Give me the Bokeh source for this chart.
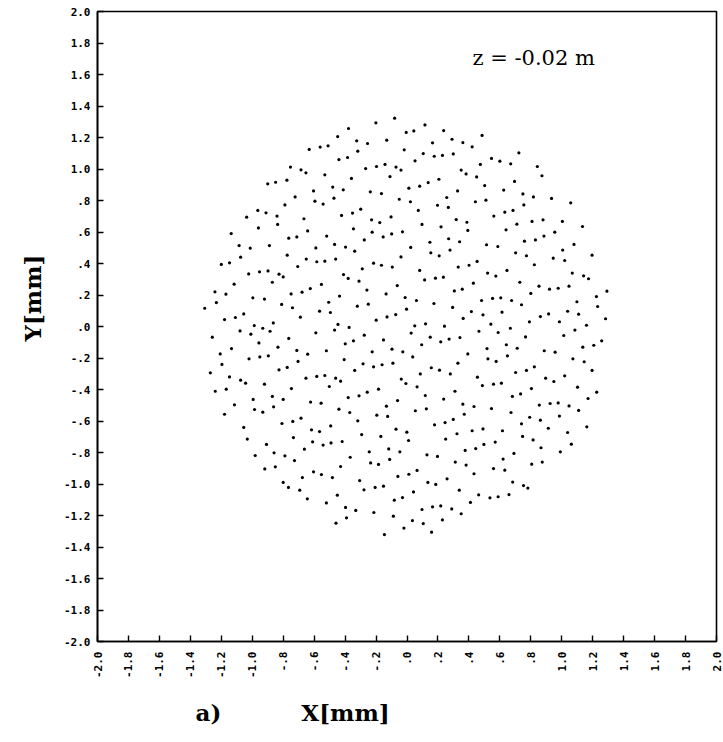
import math

from bokeh.embed import file_html
from bokeh.models import ColumnDataSource, FixedTicker, Label, Title
from bokeh.plotting import figure
from bokeh.resources import INLINE

# Spot positions in the transverse plane (mm), grouped by sector of the spot pattern.
nw_x = [-0.632, -0.561, -0.510, -0.753, -0.685, -0.653, -0.531, -0.900, -0.849, -0.776,
        -0.480, -0.604, -0.723, -0.595, -0.542, -0.472, -0.789, -0.964, -0.911, -1.036,
        -0.840, -0.666, -0.960, -0.836, -0.642, -1.136, -0.764, -0.712, -0.519, -1.085,
        -1.013, -0.889, -0.589, -0.468]
nw_y = [1.124, 1.139, 1.147, 1.012, 0.995, 0.976, 0.963, 0.906, 0.916, 0.929,
        0.885, 0.861, 0.823, 0.796, 0.777, 0.815, 0.772, 0.737, 0.722, 0.694,
        0.701, 0.684, 0.626, 0.648, 0.607, 0.590, 0.561, 0.569, 0.574, 0.514,
        0.497, 0.514, 0.499, 0.521]

n_x = [-0.080, -0.201, -0.378, -0.448, -0.005, 0.044, 0.116, 0.237, -0.325, -0.255,
       -0.131, 0.165, 0.291, 0.361, 0.421, -0.440, -0.384, -0.318, -0.018, 0.105,
       0.176, 0.229, 0.299, 0.052, -0.267, -0.197, -0.142, -0.071, -0.039, 0.350,
       0.382, -0.359, -0.110, 0.206, 0.137, 0.082, 0.012, -0.412, -0.237, -0.165,
       0.327, -0.050, 0.022, 0.257, 0.442, -0.352, -0.299, -0.423, 0.073, 0.197,
       0.267, -0.103, -0.229, -0.176, 0.318, 0.387, 0.097, 0.220, -0.346, -0.225,
       -0.154, -0.099, -0.029, 0.393, -0.276, 0.269, 0.340, 0.148, -0.397, -0.338,
       0.024, 0.278]
n_y = [1.323, 1.293, 1.257, 1.206, 1.232, 1.242, 1.280, 1.244, 1.179, 1.162,
       1.183, 1.166, 1.189, 1.168, 1.141, 1.060, 1.073, 1.113, 1.122, 1.098,
       1.081, 1.086, 1.096, 1.052, 1.003, 1.016, 1.029, 1.012, 0.993, 0.993,
       0.969, 0.940, 0.952, 0.935, 0.914, 0.891, 0.878, 0.868, 0.855, 0.844,
       0.861, 0.808, 0.792, 0.819, 0.792, 0.720, 0.745, 0.705, 0.737, 0.770,
       0.756, 0.696, 0.677, 0.660, 0.679, 0.662, 0.648, 0.633, 0.620, 0.599,
       0.569, 0.588, 0.601, 0.610, 0.550, 0.557, 0.538, 0.535, 0.504, 0.478,
       0.502, 0.485]

ne_x = [0.485, 0.723, 0.546, 0.600, 0.670, 0.474, 0.842, 0.450, 0.872, 0.695,
        0.502, 0.625, 0.749, 0.817, 0.934, 1.058, 0.510, 0.755, 0.561, 0.632,
        0.685, 0.808, 0.879, 1.004, 0.710, 0.640, 1.134, 0.955, 0.885, 0.830,
        0.759, 1.079, 0.514, 0.587, 1.006, 0.702]
ne_y = [1.213, 1.103, 1.067, 1.050, 1.033, 1.029, 1.016, 0.950, 0.957, 0.921,
        0.895, 0.866, 0.842, 0.823, 0.813, 0.785, 0.802, 0.772, 0.701, 0.726,
        0.737, 0.667, 0.677, 0.667, 0.650, 0.614, 0.635, 0.599, 0.574, 0.550,
        0.542, 0.521, 0.519, 0.508, 0.485, 0.468]

w_x = [-1.075, -0.774, -1.200, -1.147, -0.651, -0.583, -0.531, -0.461, -0.706, -1.023,
       -0.953, -0.898, -0.827, -0.800, -1.117, -0.870, -0.553, -1.241, -1.170, -0.749,
       -0.678, -0.625, -0.996, -0.921, -1.232, -0.506, -1.307, -0.810, -0.740, -0.565,
       -0.495, -1.055, -1.179, -1.109, -0.689, -0.987, -0.932, -0.864, -0.885, -1.079,
       -1.009, -0.468, -0.589, -1.258, -0.764, -0.957, -0.834, -1.134, -0.712, -0.642,
       -0.521, -1.207, -1.021, -0.951, -0.896, -1.196, -0.704, -1.271, -1.147, -0.827,
       -0.774, -1.075, -1.043, -0.921, -0.653, -0.583, -0.531, -0.461, -1.239, -1.168,
       -0.747, -0.502]
w_y = [0.440, 0.453, 0.394, 0.404, 0.428, 0.411, 0.415, 0.428, 0.381, 0.334,
       0.347, 0.353, 0.332, 0.315, 0.269, 0.281, 0.267, 0.220, 0.205, 0.207,
       0.218, 0.241, 0.182, 0.174, 0.152, 0.154, 0.116, 0.140, 0.119, 0.097,
       0.089, 0.080, 0.044, 0.057, 0.059, 0.006, -0.011, 0.023, -0.030, -0.028,
       -0.049, -0.023, -0.040, -0.068, -0.076, -0.104, -0.131, -0.140, -0.152, -0.176,
       -0.154, -0.174, -0.205, -0.193, -0.186, -0.241, -0.222, -0.294, -0.320, -0.275,
       -0.260, -0.341, -0.360, -0.366, -0.328, -0.317, -0.311, -0.328, -0.411, -0.398,
       -0.394, -0.381]

c_x = [-0.039, 0.154, 0.208, -0.216, -0.165, -0.095, -0.289, -0.410, -0.380, -0.310,
       0.082, 0.331, 0.401, 0.114, 0.184, 0.235, -0.063, 0.429, -0.436, -0.259,
       -0.135, -0.012, 0.061, 0.306, 0.357, -0.321, -0.250, 0.174, -0.003, 0.295,
       0.416, -0.199, -0.129, -0.073, 0.363, -0.446, -0.374, 0.050, 0.120, 0.242,
       -0.276, 0.027, -0.346, -0.399, -0.152, 0.150, 0.218, 0.272, 0.342, 0.095,
       -0.097, -0.225, -0.027, 0.393, 0.037, -0.406, -0.284, -0.216, -0.161, -0.091,
       0.329, -0.338, 0.157, 0.210, 0.280, 0.086, -0.429, -0.037, -0.007, -0.184,
       0.065, 0.310, -0.257]
c_y = [0.442, 0.468, 0.449, 0.402, 0.389, 0.377, 0.366, 0.330, 0.305, 0.288,
       0.356, 0.377, 0.389, 0.296, 0.307, 0.313, 0.260, 0.275, 0.193, 0.231,
       0.207, 0.184, 0.165, 0.226, 0.237, 0.129, 0.142, 0.146, 0.110, 0.121,
       0.095, 0.040, 0.061, 0.076, 0.051, 0.013, -0.006, 0.004, 0.017, 0.002,
       -0.055, -0.042, -0.091, -0.110, -0.085, -0.068, -0.097, -0.080, -0.070, -0.116,
       -0.144, -0.161, -0.161, -0.174, -0.193, -0.210, -0.237, -0.256, -0.243, -0.233,
       -0.233, -0.279, -0.262, -0.277, -0.301, -0.301, -0.347, -0.334, -0.362, -0.398,
       -0.383, -0.411, -0.417]

e_x = [0.772, 0.453, 0.945, 1.019, 1.196, 0.823, 0.521, 0.574, 0.646, 1.068,
       1.141, 1.173, 0.729, 0.853, 0.921, 0.977, 1.047, 0.800, 1.292, 0.482,
       0.553, 0.606, 0.676, 0.740, 1.098, 1.224, 1.232, 0.491, 0.614, 0.862,
       0.915, 1.038, 1.109, 1.283, 0.542, 0.791, 0.985, 1.160, 0.465, 0.589,
       0.668, 1.085, 0.766, 1.013, 0.517, 0.642, 0.712, 0.887, 0.957, 1.136,
       1.207, 1.258, 0.523, 0.576, 0.649, 1.072, 1.145, 0.823, 0.772, 0.702,
       1.196, 0.455, 0.896, 0.949, 1.019, 0.487, 0.559, 0.610, 0.804, 1.102,
       1.226]
e_y = [0.449, 0.413, 0.434, 0.419, 0.453, 0.392, 0.339, 0.320, 0.356, 0.339,
       0.322, 0.303, 0.281, 0.256, 0.237, 0.243, 0.256, 0.210, 0.224, 0.165,
       0.178, 0.182, 0.165, 0.138, 0.157, 0.190, 0.127, 0.074, 0.091, 0.063,
       0.080, 0.097, 0.078, 0.049, 0.015, 0.030, 0.030, 0.008, -0.030, -0.038,
       -0.011, -0.023, -0.066, -0.057, -0.140, -0.116, -0.138, -0.154, -0.163, -0.131,
       -0.119, -0.091, -0.205, -0.222, -0.186, -0.205, -0.224, -0.256, -0.279, -0.292,
       -0.279, -0.322, -0.328, -0.349, -0.313, -0.375, -0.366, -0.360, -0.394, -0.385,
       -0.417]

sw_x = [-0.994, -0.870, -0.800, -0.623, -0.555, -1.115, -1.179, -0.985, -0.932, -0.862,
        -0.808, -0.738, -0.685, -1.055, -0.617, -0.565, -0.493, -1.032, -0.734, -0.908,
        -0.610, -0.542, -0.491, -0.663, -0.981, -0.859, -0.789, -0.727, -0.919, -0.851,
        -0.604, -0.553, -0.482, -0.676, -0.800, -0.766, -0.693, -0.644, -0.521, -0.459]
sw_y = [-0.463, -0.444, -0.463, -0.480, -0.487, -0.497, -0.557, -0.527, -0.544, -0.510,
        -0.616, -0.603, -0.582, -0.641, -0.656, -0.667, -0.631, -0.715, -0.705, -0.749,
        -0.732, -0.753, -0.739, -0.779, -0.819, -0.802, -0.821, -0.851, -0.904, -0.891,
        -0.923, -0.940, -0.959, -0.959, -0.990, -1.022, -1.039, -1.094, -1.120, -1.249]

s_x = [-0.380, -0.310, -0.440, -0.370, -0.195, -0.125, -0.133, -0.061, 0.118, 0.237,
       0.361, 0.433, 0.054, 0.125, 0.370, -0.318, 0.178, 0.246, 0.299, -0.071,
       -0.001, -0.293, -0.169, 0.010, 0.323, 0.421, -0.419, 0.250, -0.244, -0.118,
       -0.046, 0.376, 0.129, 0.197, -0.367, -0.235, -0.184, -0.112, 0.312, 0.382,
       -0.429, 0.065, 0.012, -0.059, 0.433, -0.306, 0.135, 0.186, 0.259, -0.278,
       -0.206, -0.152, 0.042, 0.338, -0.450, -0.082, -0.029, 0.410, -0.397, -0.331,
       -0.214, 0.097, 0.165, 0.218, 0.289, 0.350, -0.088, -0.391, 0.035, 0.105,
       0.229, -0.020, 0.159, -0.146]
s_y = [-0.451, -0.440, -0.525, -0.546, -0.563, -0.571, -0.506, -0.470, -0.438, -0.461,
       -0.493, -0.508, -0.535, -0.523, -0.557, -0.599, -0.624, -0.610, -0.590, -0.652,
       -0.671, -0.686, -0.698, -0.724, -0.681, -0.662, -0.730, -0.715, -0.796, -0.777,
       -0.796, -0.787, -0.815, -0.825, -0.830, -0.866, -0.876, -0.844, -0.861, -0.880,
       -0.889, -0.914, -0.938, -0.952, -0.935, -0.978, -0.990, -1.003, -0.967, -1.037,
       -1.022, -1.014, -1.050, -1.039, -1.071, -1.103, -1.086, -1.117, -1.149, -1.168,
       -1.181, -1.162, -1.145, -1.139, -1.158, -1.189, -1.204, -1.215, -1.232, -1.251,
       -1.228, -1.280, -1.306, -1.321]

se_x = [0.681, 0.734, 0.546, 0.672, 0.855, 0.925, 0.977, 1.047, 1.109, 1.170,
        0.793, 0.862, 0.985, 0.740, 0.491, 0.617, 0.913, 1.038, 1.162, 0.747,
        0.815, 0.444, 0.497, 0.570, 0.866, 1.062, 0.991, 0.691, 0.621, 0.806,
        0.874, 0.559, 0.632, 0.683, 0.753, 0.781, 0.463, 0.536, 0.589, 0.659]
se_y = [-0.444, -0.428, -0.521, -0.546, -0.499, -0.489, -0.485, -0.504, -0.533, -0.457,
        -0.576, -0.595, -0.569, -0.618, -0.650, -0.662, -0.646, -0.673, -0.637, -0.698,
        -0.720, -0.775, -0.749, -0.734, -0.770, -0.747, -0.796, -0.806, -0.842, -0.874,
        -0.861, -0.902, -0.912, -0.988, -1.010, -1.026, -1.069, -1.088, -1.081, -1.067]

# Axis ticks (mm) and their printed labels
tick_values = [-2.0, -1.8, -1.6, -1.4, -1.2, -1.0, -0.8, -0.6, -0.4, -0.2, 0.0,
               0.2, 0.4, 0.6, 0.8, 1.0, 1.2, 1.4, 1.6, 1.8, 2.0]
tick_labels = ["-2.0", "-1.8", "-1.6", "-1.4", "-1.2", "-1.0", "-.8", "-.6", "-.4", "-.2", ".0",
               ".2", ".4", ".6", ".8", "1.0", "1.2", "1.4", "1.6", "1.8", "2.0"]

plane_label = "z = -0.02 m"
panel_label = "a)"
x_title = "X[mm]"
y_title = "Y[mm]"

spots = ColumnDataSource(data=dict(
    x=nw_x + n_x + ne_x + w_x + c_x + e_x + sw_x + s_x + se_x,
    y=nw_y + n_y + ne_y + w_y + c_y + e_y + sw_y + s_y + se_y,
))

p = figure(
    width=723, height=742,
    x_range=(-2.0, 2.0), y_range=(-2.0, 2.0),
    output_backend="svg", toolbar_location=None,
    min_border_left=97, min_border_right=7, min_border_top=11, min_border_bottom=101,
    background_fill_color="white", border_fill_color="white",
)
p.grid.visible = False
p.outline_line_color = "black"
p.outline_line_width = 1.6

overrides = dict(zip(tick_values, tick_labels))
for ax in (p.xaxis[0], p.yaxis[0]):
    ax.ticker = FixedTicker(ticks=tick_values)
    ax.major_label_overrides = overrides
    ax.major_tick_in = 6
    ax.major_tick_out = 0
    ax.minor_tick_line_color = None
    ax.axis_line_width = 1.6
    ax.major_tick_line_width = 1.4
    ax.major_label_text_font = "DejaVu Sans Mono"
    ax.major_label_text_font_style = "bold"
    ax.major_label_text_font_size = "11px"
    ax.major_label_text_color = "black"

p.yaxis.major_label_standoff = 7
p.xaxis.major_label_standoff = 10
p.xaxis.major_label_orientation = math.pi / 2

p.scatter("x", "y", source=spots, marker="circle", size=3.2,
          fill_color="black", line_color=None)

p.add_layout(Label(x=0.423, y=1.702, text=plane_label, text_font="DejaVu Serif",
                   text_font_size="21px", text_baseline="middle", text_align="left",
                   text_color="black"))

# Axis titles sit in the side panels; the bottom one also carries the panel tag.
p.add_layout(Title(text=y_title, align="left", offset=300, standoff=31,
                   text_font="DejaVu Serif", text_font_style="bold",
                   text_font_size="23px", text_color="black"), "left")
p.add_layout(Title(text=panel_label + "\u00a0" * 10 + x_title, align="left", offset=98,
                   standoff=32, text_font="DejaVu Serif", text_font_style="bold",
                   text_font_size="23px", text_color="black"), "below")

open("out.html", "w").write(file_html(p, INLINE))
